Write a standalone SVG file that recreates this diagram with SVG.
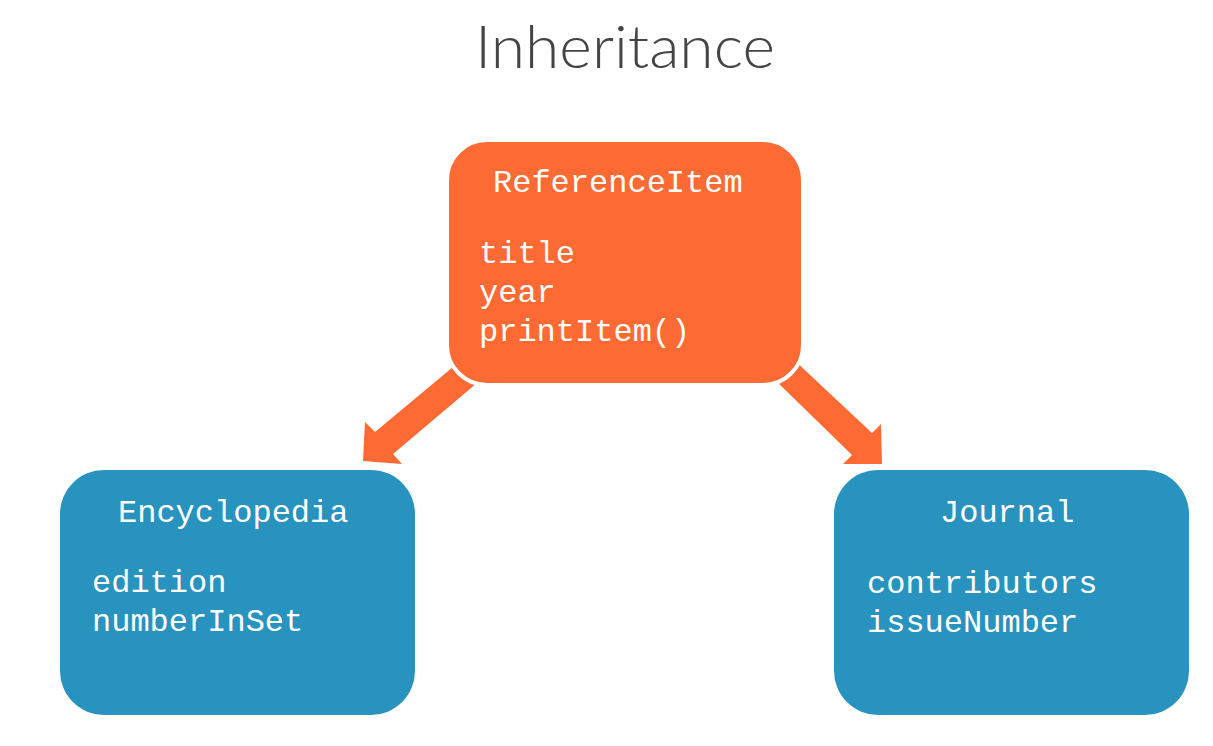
<svg xmlns="http://www.w3.org/2000/svg" width="1213" height="746" viewBox="0 0 1213 746">
<style>
.title{font-family:Lato,"Open Sans","Liberation Sans",sans-serif;font-weight:300;font-size:60px;fill:#444444}
.mono{font-family:"Liberation Mono","DejaVu Sans Mono",monospace;font-size:32px;fill:#ffffff}
.orange{fill:#FD6A33}
.blue{fill:#2793BE}
.arrow{fill:#FD6A33}
</style>
<rect width="1213" height="746" fill="#ffffff"/>
<text class="title" x="475" y="68" textLength="300" lengthAdjust="spacingAndGlyphs">Inheritance</text>
<g id="connectors">
<polygon class="arrow" points="459,362 375,432 365,422 363,461 402,464 393,454 477,383"/>
<polygon class="arrow" points="792,358 872,433 881,424 882,464 843,464 852,455 773,378"/>
</g>
<g id="ReferenceItem">
<rect class="orange" x="447" y="140" width="356" height="245" rx="40" ry="40" stroke="#ffffff" stroke-width="4"/>
<text class="mono" x="493" y="192">ReferenceItem</text>
<text class="mono" x="479" y="263">title</text>
<text class="mono" x="479" y="302">year</text>
<text class="mono" x="479" y="341">printItem()</text>
</g>
<g id="Encyclopedia">
<rect class="blue" x="60" y="470" width="355" height="245" rx="44" ry="44"/>
<text class="mono" x="118" y="522">Encyclopedia</text>
<text class="mono" x="92" y="592">edition</text>
<text class="mono" x="92" y="631">numberInSet</text>
</g>
<g id="Journal">
<rect class="blue" x="834" y="470" width="355" height="245" rx="44" ry="44"/>
<text class="mono" x="940" y="522">Journal</text>
<text class="mono" x="867" y="593">contributors</text>
<text class="mono" x="867" y="632">issueNumber</text>
</g>
</svg>
